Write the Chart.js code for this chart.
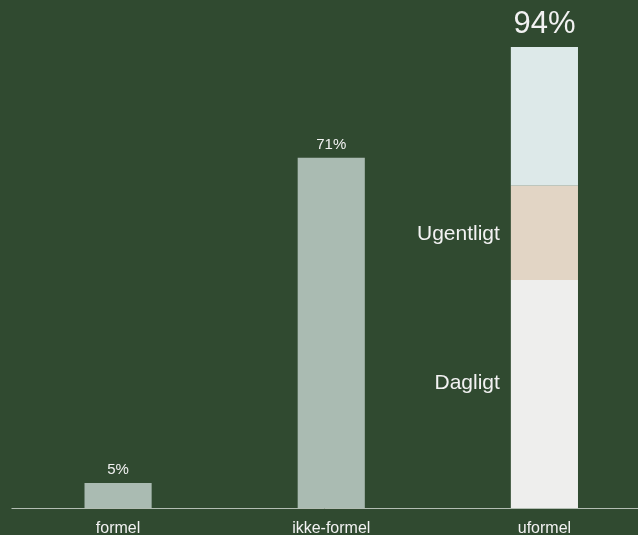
<!DOCTYPE html>
<html>
<head>
<meta charset="utf-8">
<script src="https://cdn.jsdelivr.net/npm/chart.js@4"></script>
<style>
  html, body { margin: 0; padding: 0; background: #304a30; overflow: hidden; }
  #ramme { position: relative; width: 638px; height: 535px; overflow: hidden; }
  #wrap { position: absolute; left: 0; top: 0; width: 651px; height: 535px; }
</style>
</head>
<body>
<div id="ramme"><div id="wrap"><canvas id="myChart"></canvas></div></div>
<script>
let kategorier = ['formel', 'ikke-formel', 'uformel'];
let andel = [5.1, 71.4, null];
let dagligt = [null, null, 46.5];
let ugentligt = [null, null, 19.2];
let sjaeldnere = [null, null, 28.3];
let totaler = ['5%', '71%', '94%'];
let segmentNavne = ['Dagligt', 'Ugentligt'];

const tekstFarve = '#f2f2f2';

// tegner akse, kategorier og etiketter oven på søjlerne
const etiketter = {
    id: 'etiketter',
    afterDatasetsDraw(chart) {
        const ctx = chart.ctx;
        const x = chart.scales.x;
        const y = chart.scales.y;
        const area = chart.chartArea;
        ctx.save();

        ctx.strokeStyle = '#b3bdb3';
        ctx.lineWidth = 1;
        ctx.beginPath();
        ctx.moveTo(area.left, Math.round(area.bottom) + 0.5);
        ctx.lineTo(638, Math.round(area.bottom) + 0.5);
        ctx.stroke();

        ctx.fillStyle = tekstFarve;
        ctx.textAlign = 'center';
        ctx.textBaseline = 'alphabetic';
        ctx.font = '16px "Liberation Sans", Arial, sans-serif';
        kategorier.forEach((k, i) => {
            ctx.fillText(k, x.getPixelForValue(i), 533);
        });

        kategorier.forEach((k, i) => {
            let sum = (andel[i] || 0) + (dagligt[i] || 0) + (ugentligt[i] || 0) + (sjaeldnere[i] || 0);
            let top = y.getPixelForValue(sum);
            let stor = i === 2;
            ctx.font = (stor ? '31px' : '15px') + ' "Liberation Sans", Arial, sans-serif';
            ctx.fillText(totaler[i], x.getPixelForValue(i), top - (stor ? 14 : 9));
        });

        // segmentnavne til venstre for den stablede søjle
        const meta = chart.getDatasetMeta(1);
        const bar = meta.data[2];
        const venstre = bar.x - bar.width / 2 - 11;
        ctx.textAlign = 'right';
        ctx.textBaseline = 'middle';
        ctx.font = '21px "Liberation Sans", Arial, sans-serif';
        let bund = 0;
        let andelOp = [0.55, 0.5];
        [dagligt, ugentligt].forEach((serie, j) => {
            let midt = y.getPixelForValue(bund + serie[2] * andelOp[j]);
            ctx.fillText(segmentNavne[j], venstre, midt + 1);
            bund += serie[2];
        });

        ctx.restore();
    }
};

let ctx = document.getElementById('myChart').getContext('2d');
let myChart = new Chart(ctx, {
    type: 'bar',
    data: {
        labels: kategorier,
        datasets: [
            { label: 'Andel', data: andel, backgroundColor: '#aabbb2' },
            { label: 'Dagligt', data: dagligt, backgroundColor: '#eeeeed' },
            { label: 'Ugentligt', data: ugentligt, backgroundColor: '#e2d5c5' },
            { label: 'Sjældnere', data: sjaeldnere, backgroundColor: '#dde9e9' }
        ]
    },
    options: {
        responsive: true,
        maintainAspectRatio: false,
        animation: false,
        layout: { padding: { top: 17.6, bottom: 27, left: 11.5, right: 0 } },
        datasets: { bar: { categoryPercentage: 1, barPercentage: 0.315 } },
        plugins: {
            legend: { display: false },
            tooltip: { enabled: false }
        },
        scales: {
            x: { stacked: true, display: false },
            y: { stacked: true, display: false, min: 0, max: 100 }
        }
    },
    plugins: [etiketter]
});
</script>
</body>
</html>
